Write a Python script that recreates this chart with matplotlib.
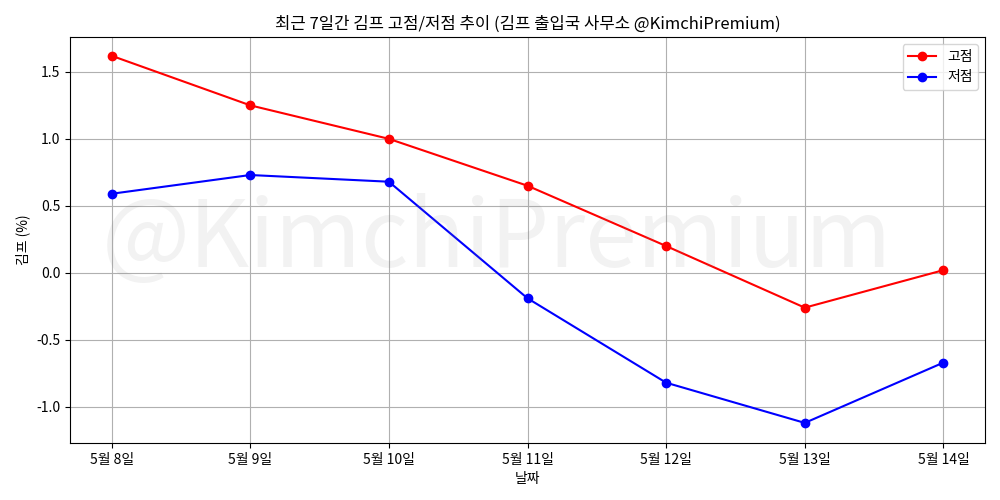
import matplotlib
matplotlib.use("Agg")
import matplotlib.pyplot as plt

plt.rcParams['font.family'] = ['Noto Sans CJK KR', 'DejaVu Sans']
plt.rcParams['axes.unicode_minus'] = False

dates = ["5월 8일", "5월 9일", "5월 10일", "5월 11일", "5월 12일", "5월 13일", "5월 14일"]
highs = [1.62, 1.25, 1.00, 0.65, 0.20, -0.26, 0.02]
lows = [0.59, 0.73, 0.68, -0.19, -0.82, -1.12, -0.67]

fig, ax = plt.subplots(figsize=(10, 5), dpi=100)
x = range(len(dates))
ax.plot(x, highs, color='red', marker='o', label='고점')
ax.plot(x, lows, color='blue', marker='o', label='저점')
ax.set_xticks(list(x))
ax.set_xticklabels(dates)
ax.set_xlim(-0.3, 6.3)
ax.set_ylim(-1.27, 1.76)
ax.set_title("최근 7일간 김프 고점/저점 추이 (김프 출입국 사무소 @KimchiPremium)")
ax.set_xlabel("날짜")
ax.set_ylabel("김프 (%)")
ax.grid(True)
ax.legend(loc='upper right')
ax.text(0.467, 0.5, "@KimchiPremium", transform=ax.transAxes, fontsize=67,
        color='gray', alpha=0.1, ha='center', va='center', fontweight='light')
fig.subplots_adjust(left=0.07, right=0.985, top=0.926, bottom=0.114)
fig.savefig("out.png")
